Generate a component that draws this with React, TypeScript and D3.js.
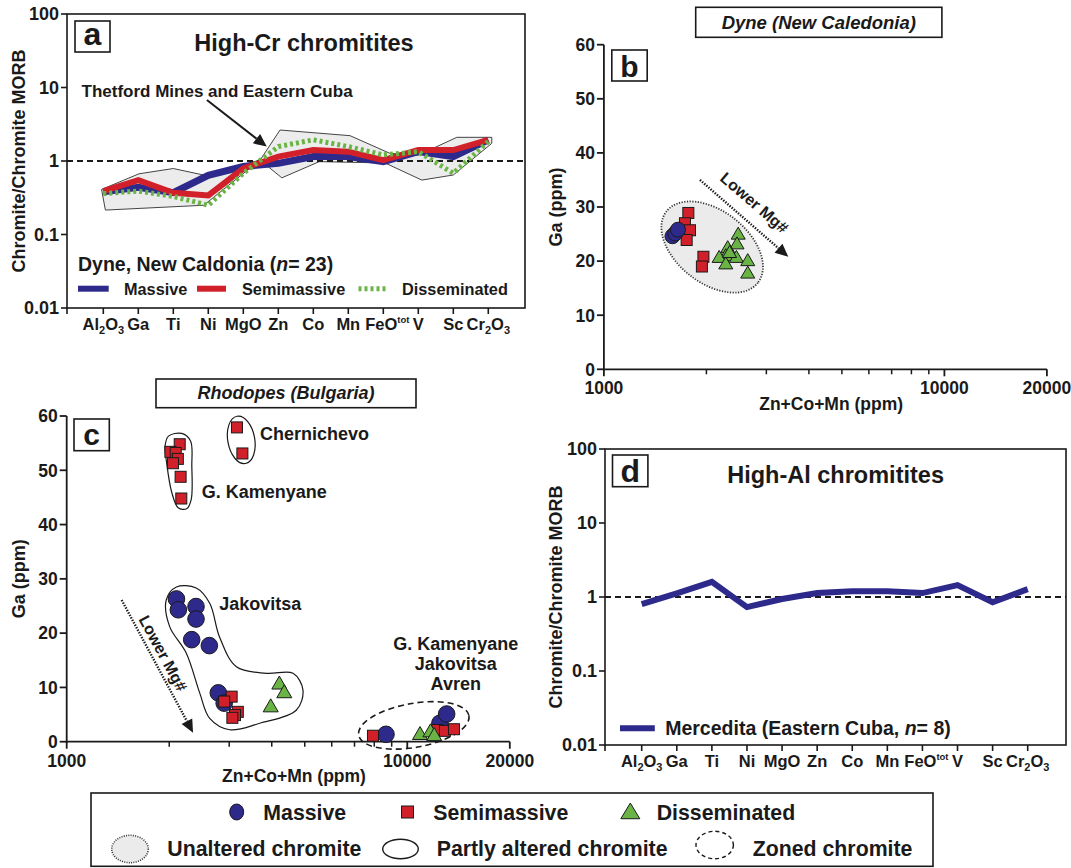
import * as d3 from "d3";
import { useEffect, useRef } from "react";

const W = 1071;
const H = 868;
const FONT = "'Liberation Sans', Arial, Helvetica, sans-serif";
const INK = "#1a1a1a";
const BLUE = "#2d2a8c";
const RED = "#d2202a";
const GREEN = "#6ab446";

// ---- panels a and d: chromite / chromite MORB
const elements = ["Al2O3", "Ga", "Ti", "Ni", "MgO", "Zn", "Co", "Mn", "FeOtot", "V", "Sc", "Cr2O3"];
const spiderTicks = [0.01, 0.1, 1, 10, 100];
const dyneMassive = [0.38, 0.44, 0.37, 0.64, 0.84, 0.93, 1.15, 1.15, 0.98, 1.34, 1.15, 1.94];
const dyneSemimassive = [0.39, 0.55, 0.37, 0.34, 0.79, 1.15, 1.41, 1.34, 1.03, 1.41, 1.41, 1.94];
const dyneDisseminated = [0.36, 0.39, 0.33, 0.25, 0.68, 1.57, 1.94, 1.57, 1.21, 1.34, 0.68, 1.84];
const merceditaMassive = [0.8, 1.12, 1.6, 0.73, 0.94, 1.13, 1.2, 1.2, 1.13, 1.45, 0.85, 1.28];
// Thetford Mines + Eastern Cuba field, [element position, value]
const thetfordField: [number, number][] = [
  [-0.05, 0.41], [1.02, 0.67], [2.0, 0.79], [2.86, 0.645], [4.48, 1.03], [5.05, 2.64],
  [7.05, 2.21], [8.19, 1.27], [9.0, 1.2], [10.1, 2.1], [11.1, 2.1], [11.1, 1.74],
  [10.0, 0.645], [9.1, 0.55], [8.05, 0.94], [6.17, 0.98], [5.1, 0.59], [4.48, 1.03],
  [2.87, 0.25], [0.06, 0.215],
];
const thetfordArrow: [number, number][] = [[2.96, 6.76], [4.67, 1.57]];

// ---- panels b and c: Ga vs Zn+Co+Mn
const gaTicks = [0, 10, 20, 30, 40, 50, 60];
const sumTicks = [1000, 10000, 20000];
const sumMinorTicks = [2000, 3000, 4000, 5000, 6000, 7000, 8000, 9000];

const dyneMassivePts: [number, number][] = [[1590, 24.6], [1620, 25.1], [1650, 25.8]];
const dyneSemimassivePts: [number, number][] = [
  [1770, 28.9], [1730, 27.0], [1790, 25.7], [1750, 23.9], [1960, 20.8], [1940, 19.0],
];
const dyneDisseminatedPts: [number, number][] = [
  [2480, 24.8], [2460, 23.0], [2310, 22.3], [2280, 20.8], [2180, 20.5],
  [2280, 19.3], [2450, 20.5], [2645, 19.9], [2645, 17.6], [2340, 21.4],
];
const dyneField = { center: [2080, 22.6], rx: 58, ry: 36, angle: 38 };
const dyneArrow: [number, number][] = [[1915, 35.0], [3480, 20.8]];
const dyneArrowLabel = [2770, 30.8];

const rhoMassivePts: [number, number][] = [
  [2100, 26.3], [2127, 24.3], [2397, 24.9], [2397, 22.6], [2328, 18.8], [2623, 17.7],
  [2787, 9.0], [2900, 7.1], [8660, 1.36], [12470, 3.4], [13050, 5.1],
];
const rhoSemimassivePts: [number, number][] = [
  [2147, 54.8], [2016, 53.4], [2090, 53.2], [2120, 52.1], [2051, 51.3], [2160, 48.8], [2170, 44.8],
  [3162, 57.9], [3280, 53.1],
  [3050, 8.3], [2900, 7.4], [3180, 5.5], [3120, 4.9], [3065, 4.4],
  [7930, 1.1], [12250, 2.16], [12900, 2.0], [13710, 2.3],
];
const rhoDisseminatedPts: [number, number][] = [
  [4210, 10.5], [4354, 8.9], [3972, 6.3], [10900, 1.2], [11700, 1.7], [12000, 1.0],
];
const kamenyaneOutline: [number, number][] = [
  [1990, 56.3], [2175, 56.8], [2310, 55.4], [2330, 50.8], [2320, 44.6], [2250, 42.9],
  [2125, 43.1], [2035, 45.9], [1965, 51.4], [1945, 54.5],
];
const jakovitsaOutline: [number, number][] = [
  [1960, 26.1], [2100, 28.5], [2400, 28.3], [2630, 25.5], [2810, 19.3], [3150, 13.8],
  [3860, 12.6], [4620, 12.6], [4940, 9.5], [4720, 5.8], [3690, 3.4], [3010, 2.2],
  [2630, 4.3], [2460, 8.9], [2245, 16.3], [2006, 21.2],
];
const chernichevoField = { center: [3255, 55.6], rx: 13.5, ry: 24, angle: -10 };
const zonedField = { center: [10450, 3.0], rx: 56, ry: 22, angle: -10 };
const rhoArrow: [number, number][] = [[1450, 26.1], [2350, 1.66]];
const rhoArrowLabel = [1920, 16.3];

type Sel = any;

function label(g: Sel, x: number, y: number, s: string, size: number, anchor = "start", italic = false) {
  return g
    .append("text")
    .attr("x", x)
    .attr("y", y)
    .attr("font-size", size)
    .attr("font-weight", 700)
    .attr("font-style", italic ? "italic" : "normal")
    .attr("text-anchor", anchor)
    .attr("fill", INK)
    .text(s);
}

function letterBox(g: Sel, x: number, y: number, w: number, h: number, s: string, size: number, base: number) {
  g.append("rect").attr("x", x).attr("y", y).attr("width", w).attr("height", h)
    .attr("fill", "white").attr("stroke", INK).attr("stroke-width", 1.6);
  label(g, x + w / 2, base, s, size, "middle");
}

function arrow(g: Sel, p1: number[], p2: number[], dotted: boolean) {
  const ang = Math.atan2(p2[1] - p1[1], p2[0] - p1[0]);
  const hl = 13, hw = 6;
  const bx = p2[0] - hl * Math.cos(ang), by = p2[1] - hl * Math.sin(ang);
  g.append("line")
    .attr("x1", p1[0]).attr("y1", p1[1]).attr("x2", bx).attr("y2", by)
    .attr("stroke", INK).attr("stroke-width", dotted ? 2.4 : 2)
    .attr("stroke-dasharray", dotted ? "1.4 1.4" : null);
  const px = -Math.sin(ang) * hw, py = Math.cos(ang) * hw;
  g.append("path")
    .attr("d", `M${p2[0]},${p2[1]}L${bx + px},${by + py}L${bx - px},${by - py}Z`)
    .attr("fill", INK);
}

function elementParts(name: string): [string, string][] {
  if (name === "FeOtot") return [["FeO", ""], ["tot", "sup"]];
  return name.split(/(\d)/).filter((s) => s).map((s) => [s, /\d/.test(s) ? "sub" : ""] as [string, string]);
}

function spiderPanel(svg: Sel, cfg: { x0: number; x1: number; y0: number; y1: number; first: number; last: number; labelX: number }) {
  const { x0, x1, y0, y1, first, last } = cfg;
  const x = d3.scaleLinear().domain([0, elements.length - 1]).range([first, last]);
  const y = d3.scaleLog().domain([0.01, 100]).range([y1, y0]);
  const g = svg.append("g");
  const under = g.append("g");

  // reference line at 1
  g.append("line")
    .attr("x1", x0).attr("x2", x1).attr("y1", y(1)).attr("y2", y(1))
    .attr("stroke", INK).attr("stroke-width", 1.8).attr("stroke-dasharray", "6 4");
  const over = g.append("g");

  g.append("rect").attr("x", x0).attr("y", y0).attr("width", x1 - x0).attr("height", y1 - y0)
    .attr("fill", "none").attr("stroke", INK).attr("stroke-width", 1.6);

  spiderTicks.forEach((t) => {
    g.append("line").attr("x1", x0 - 6).attr("x2", x0).attr("y1", y(t)).attr("y2", y(t))
      .attr("stroke", INK).attr("stroke-width", 1.6);
    label(g, x0 - 8, y(t), String(t), 18, "end").attr("dy", "0.36em");
  });
  g.append("line").attr("x1", x0).attr("x2", x0).attr("y1", y1).attr("y2", y1 + 6)
    .attr("stroke", INK).attr("stroke-width", 1.6);

  elements.forEach((el, i) => {
    g.append("line").attr("x1", x(i)).attr("x2", x(i)).attr("y1", y1).attr("y2", y1 + 6)
      .attr("stroke", INK).attr("stroke-width", 1.6);
    // superscripted label: keep the main part on the tick, "tot" hangs to the right
    const shiftX = el === "FeOtot" ? 4 : 0;
    const t = label(g, x(i) + shiftX, y1 + 22, "", 16.5, "middle");
    let shift = 0;
    elementParts(el).forEach(([s, kind]) => {
      const target = kind === "sub" ? 4 : kind === "sup" ? -7 : 0;
      t.append("tspan").attr("dy", target - shift).attr("font-size", kind ? (kind === "sub" ? 11 : 9.5) : 16.5).text(s);
      shift = target;
    });
  });

  label(g, 0, 0, "Chromite/Chromite MORB", 18, "middle")
    .attr("dy", "0.36em")
    .attr("transform", `translate(${cfg.labelX},${(y0 + y1) / 2}) rotate(-90)`);

  return { under, over, x, y };
}

function scatterPanel(svg: Sel, cfg: { x0: number; x1: number; y0: number; y1: number; tickBase: number; titleBase: number; gaX: number }) {
  const { x0, x1, y0, y1 } = cfg;
  const x = d3.scaleLog().domain([1000, 20000]).range([x0, x1]);
  const y = d3.scaleLinear().domain([0, 60]).range([y1, y0]);
  const g = svg.append("g");
  g.append("line").attr("x1", x0).attr("x2", x0).attr("y1", y1 + 1).attr("y2", y0)
    .attr("stroke", INK).attr("stroke-width", 1.8);
  g.append("line").attr("x1", x0).attr("x2", x1).attr("y1", y1).attr("y2", y1)
    .attr("stroke", INK).attr("stroke-width", 1.8);
  gaTicks.forEach((t) => {
    g.append("line").attr("x1", x0 - 7).attr("x2", x0).attr("y1", y(t)).attr("y2", y(t))
      .attr("stroke", INK).attr("stroke-width", 1.8);
    label(g, x0 - 9, y(t), String(t), 17.5, "end").attr("dy", "0.36em");
  });
  sumTicks.forEach((t) => {
    g.append("line").attr("x1", x(t)).attr("x2", x(t)).attr("y1", y1).attr("y2", y1 + 7)
      .attr("stroke", INK).attr("stroke-width", 1.8);
    label(g, x(t), cfg.tickBase, String(t), 17.5, "middle");
  });
  sumMinorTicks.forEach((t) => {
    g.append("line").attr("x1", x(t)).attr("x2", x(t)).attr("y1", y1).attr("y2", y1 + 5)
      .attr("stroke", INK).attr("stroke-width", 1.5);
  });
  label(g, (x0 + x(10000)) / 2 + 57, cfg.titleBase, "Zn+Co+Mn (ppm)", 17.5, "middle");
  label(g, 0, 0, "Ga (ppm)", 18, "middle")
    .attr("dy", "0.36em")
    .attr("transform", `translate(${cfg.gaX},${(y0 + y1) / 2}) rotate(-90)`);
  return { g, x, y };
}

function drawCircles(g: Sel, pts: [number, number][], x: any, y: any, r: number) {
  g.selectAll(null).data(pts).join("circle")
    .attr("cx", (d: number[]) => x(d[0])).attr("cy", (d: number[]) => y(d[1])).attr("r", r)
    .attr("fill", BLUE).attr("stroke", INK).attr("stroke-width", 1);
}
function drawSquares(g: Sel, pts: [number, number][], x: any, y: any, s: number) {
  g.selectAll(null).data(pts).join("rect")
    .attr("x", (d: number[]) => x(d[0]) - s / 2).attr("y", (d: number[]) => y(d[1]) - s / 2)
    .attr("width", s).attr("height", s)
    .attr("fill", RED).attr("stroke", INK).attr("stroke-width", 1);
}
function triPath(cx: number, cy: number, w: number, h: number) {
  return `M${cx},${cy - (h * 2) / 3}L${cx + w / 2},${cy + h / 3}L${cx - w / 2},${cy + h / 3}Z`;
}
function drawTriangles(g: Sel, pts: [number, number][], x: any, y: any, w: number, h: number) {
  g.selectAll(null).data(pts).join("path")
    .attr("d", (d: number[]) => triPath(x(d[0]), y(d[1]), w, h))
    .attr("fill", GREEN).attr("stroke", INK).attr("stroke-width", 1);
}
function drawEllipse(g: Sel, f: any, x: any, y: any) {
  return g.append("ellipse")
    .attr("rx", f.rx).attr("ry", f.ry)
    .attr("transform", `translate(${x(f.center[0])},${y(f.center[1])}) rotate(${f.angle})`);
}

export default function App() {
  const svgRef = useRef<SVGSVGElement | null>(null);

  useEffect(() => {
    const svg = d3.select(svgRef.current);
    svg.selectAll("*").remove();
    svg.append("rect").attr("width", W).attr("height", H).attr("fill", "white");

    // ---------- panel a
    const a = spiderPanel(svg, { x0: 67, x1: 525, y0: 14, y1: 308, first: 103.3, last: 488.3, labelX: 19 });
    const fieldLine = d3.line<[number, number]>().x((d) => a.x(d[0])).y((d) => a.y(d[1]));
    a.under.append("path").attr("d", fieldLine(thetfordField) + "Z")
      .attr("fill", "#ececec").attr("stroke", "#444").attr("stroke-width", 1);
    const seriesLine = (xs: any, ys: any) =>
      d3.line<number>().x((_, i) => xs(i)).y((d) => ys(d));
    a.over.append("path").attr("d", seriesLine(a.x, a.y)(dyneMassive))
      .attr("fill", "none").attr("stroke", BLUE).attr("stroke-width", 7);
    a.over.append("path").attr("d", seriesLine(a.x, a.y)(dyneSemimassive))
      .attr("fill", "none").attr("stroke", RED).attr("stroke-width", 6);
    a.over.append("path").attr("d", seriesLine(a.x, a.y)(dyneDisseminated))
      .attr("fill", "none").attr("stroke", GREEN).attr("stroke-width", 5).attr("stroke-dasharray", "3 3");
    letterBox(svg, 75, 21, 35, 31, "a", 32, 45);
    label(svg, 304, 51, "High-Cr chromitites", 23.5, "middle");
    label(svg, 81.5, 96.7, "Thetford Mines and Eastern Cuba", 17);
    arrow(svg, [a.x(thetfordArrow[0][0]), a.y(thetfordArrow[0][1])], [a.x(thetfordArrow[1][0]), a.y(thetfordArrow[1][1])], false);
    const dyneLab = label(svg, 78, 270.5, "Dyne, New Caldonia (", 19.5);
    dyneLab.append("tspan").attr("font-style", "italic").text("n");
    dyneLab.append("tspan").text("= 23)");
    const legA: [string, string, number, number, number, boolean][] = [
      ["Massive", BLUE, 78, 108.7, 124, false],
      ["Semimassive", RED, 197, 226, 242, false],
      ["Disseminated", GREEN, 358.5, 387, 402, true],
    ];
    legA.forEach(([name, col, lx1, lx2, tx, dotted]) => {
      svg.append("line").attr("x1", lx1).attr("x2", lx2).attr("y1", 288.7).attr("y2", 288.7)
        .attr("stroke", col).attr("stroke-width", dotted ? 5 : 6)
        .attr("stroke-dasharray", dotted ? "3 3" : null);
      label(svg, tx, 295, name, 16.3);
    });

    // ---------- panel d
    const dd = spiderPanel(svg, { x0: 605, x1: 1066, y0: 449, y1: 745, first: 641.7, last: 1027.7, labelX: 556 });
    dd.over.append("path").attr("d", seriesLine(dd.x, dd.y)(merceditaMassive))
      .attr("fill", "none").attr("stroke", BLUE).attr("stroke-width", 6);
    letterBox(svg, 612.5, 455, 35.4, 31.7, "d", 32, 481.5);
    label(svg, 835.6, 483.3, "High-Al chromitites", 23.5, "middle");
    svg.append("line").attr("x1", 620).attr("x2", 654.8).attr("y1", 728.3).attr("y2", 728.3)
      .attr("stroke", BLUE).attr("stroke-width", 6);
    const merLab = label(svg, 665.2, 735, "Mercedita (Eastern Cuba, ", 19.5);
    merLab.append("tspan").attr("font-style", "italic").text("n");
    merLab.append("tspan").text("= 8)");

    // ---------- panel b
    const b = scatterPanel(svg, { x0: 603.9, x1: 1046.9, y0: 44.7, y1: 369.3, tickBase: 394, titleBase: 410, gaX: 556 });
    drawEllipse(b.g, dyneField, b.x, b.y)
      .attr("fill", "#ebebeb").attr("stroke", "#333").attr("stroke-width", 1.8).attr("stroke-dasharray", "1.2 1.5");
    arrow(b.g, [b.x(dyneArrow[0][0]), b.y(dyneArrow[0][1])], [b.x(dyneArrow[1][0]), b.y(dyneArrow[1][1])], true);
    label(b.g, 0, 0, "Lower Mg#", 16, "middle")
      .attr("dy", "0.36em")
      .attr("transform", `translate(${b.x(dyneArrowLabel[0])},${b.y(dyneArrowLabel[1])}) rotate(40.6)`);
    drawSquares(b.g, dyneSemimassivePts, b.x, b.y, 11);
    drawCircles(b.g, dyneMassivePts, b.x, b.y, 7.5);
    drawTriangles(b.g, dyneDisseminatedPts, b.x, b.y, 14, 12);
    svg.append("rect").attr("x", 695.7).attr("y", 7.3).attr("width", 246.2).attr("height", 30)
      .attr("fill", "white").attr("stroke", INK).attr("stroke-width", 1.6);
    label(svg, 818.8, 28.5, "Dyne (New Caledonia)", 18.5, "middle", true);
    letterBox(svg, 611.8, 50, 35.4, 31, "b", 30, 76.5);

    // ---------- panel c
    const c = scatterPanel(svg, { x0: 66.7, x1: 509.8, y0: 416, y1: 741.7, tickBase: 767, titleBase: 781.5, gaX: 18.3 });
    const outline = d3.line<[number, number]>().x((d) => c.x(d[0])).y((d) => c.y(d[1])).curve(d3.curveCatmullRomClosed);
    c.g.append("path").attr("d", outline(kamenyaneOutline)).attr("fill", "white").attr("stroke", INK).attr("stroke-width", 1.2);
    c.g.append("path").attr("d", outline(jakovitsaOutline)).attr("fill", "white").attr("stroke", INK).attr("stroke-width", 1.2);
    drawEllipse(c.g, chernichevoField, c.x, c.y).attr("fill", "white").attr("stroke", INK).attr("stroke-width", 1.2);
    drawEllipse(c.g, zonedField, c.x, c.y).attr("fill", "none").attr("stroke", INK).attr("stroke-width", 1.6).attr("stroke-dasharray", "6 4");
    arrow(c.g, [c.x(rhoArrow[0][0]), c.y(rhoArrow[0][1])], [c.x(rhoArrow[1][0]), c.y(rhoArrow[1][1])], true);
    label(c.g, 0, 0, "Lower Mg#", 16, "middle")
      .attr("dy", "0.36em")
      .attr("transform", `translate(${c.x(rhoArrowLabel[0])},${c.y(rhoArrowLabel[1])}) rotate(61.6)`);
    drawCircles(c.g, rhoMassivePts, c.x, c.y, 8.3);
    drawSquares(c.g, rhoSemimassivePts, c.x, c.y, 11);
    drawTriangles(c.g, rhoDisseminatedPts, c.x, c.y, 15, 13);
    label(svg, 260, 440, "Chernichevo", 18);
    label(svg, 201.7, 498, "G. Kamenyane", 18);
    label(svg, 219.3, 610, "Jakovitsa", 18);
    ["G. Kamenyane", "Jakovitsa", "Avren"].forEach((s, i) => label(svg, 455.8, 650 + i * 20, s, 18, "middle"));
    svg.append("rect").attr("x", 156).attr("y", 379).attr("width", 260).attr("height", 28.7)
      .attr("fill", "white").attr("stroke", INK).attr("stroke-width", 1.6);
    label(svg, 286, 398.5, "Rhodopes (Bulgaria)", 18, "middle", true);
    letterBox(svg, 74, 419, 35.3, 31.7, "c", 30, 444.5);

    // ---------- bottom legend
    const lg = svg.append("g");
    lg.append("rect").attr("x", 91).attr("y", 793).attr("width", 842).attr("height", 73.3)
      .attr("fill", "white").attr("stroke", INK).attr("stroke-width", 1.6);
    lg.append("ellipse").attr("cx", 236.7).attr("cy", 812).attr("rx", 7).attr("ry", 8)
      .attr("fill", BLUE).attr("stroke", INK).attr("stroke-width", 1);
    label(lg, 263.3, 819.7, "Massive", 21.3);
    lg.append("rect").attr("x", 401.5).attr("y", 806).attr("width", 12).attr("height", 12)
      .attr("fill", RED).attr("stroke", INK).attr("stroke-width", 1);
    label(lg, 433.3, 819.7, "Semimassive", 21.3);
    lg.append("path").attr("d", triPath(630.3, 813.5, 19, 15.7))
      .attr("fill", GREEN).attr("stroke", INK).attr("stroke-width", 1);
    label(lg, 656.7, 819.7, "Disseminated", 21.3);
    lg.append("ellipse").attr("cx", 130).attr("cy", 849).attr("rx", 18.3).attr("ry", 13.7)
      .attr("fill", "#ebebeb").attr("stroke", "#333").attr("stroke-width", 1.6).attr("stroke-dasharray", "1 1.3");
    label(lg, 167.3, 856.3, "Unaltered chromite", 21.3);
    lg.append("ellipse").attr("cx", 400.5).attr("cy", 849).attr("rx", 17.8).attr("ry", 9.8)
      .attr("fill", "white").attr("stroke", INK).attr("stroke-width", 1.4);
    label(lg, 436.7, 856.3, "Partly altered chromite", 21.3);
    lg.append("ellipse").attr("cx", 714.7).attr("cy", 845).attr("rx", 18.7).attr("ry", 13.7)
      .attr("fill", "none").attr("stroke", INK).attr("stroke-width", 1.4).attr("stroke-dasharray", "4 3");
    label(lg, 752.7, 856.3, "Zoned chromite", 21.3);
  }, []);

  return (
    <svg
      ref={svgRef}
      width={W}
      height={H}
      style={{ position: "absolute", left: 0, top: 0, fontFamily: FONT }}
    ></svg>
  );
}
